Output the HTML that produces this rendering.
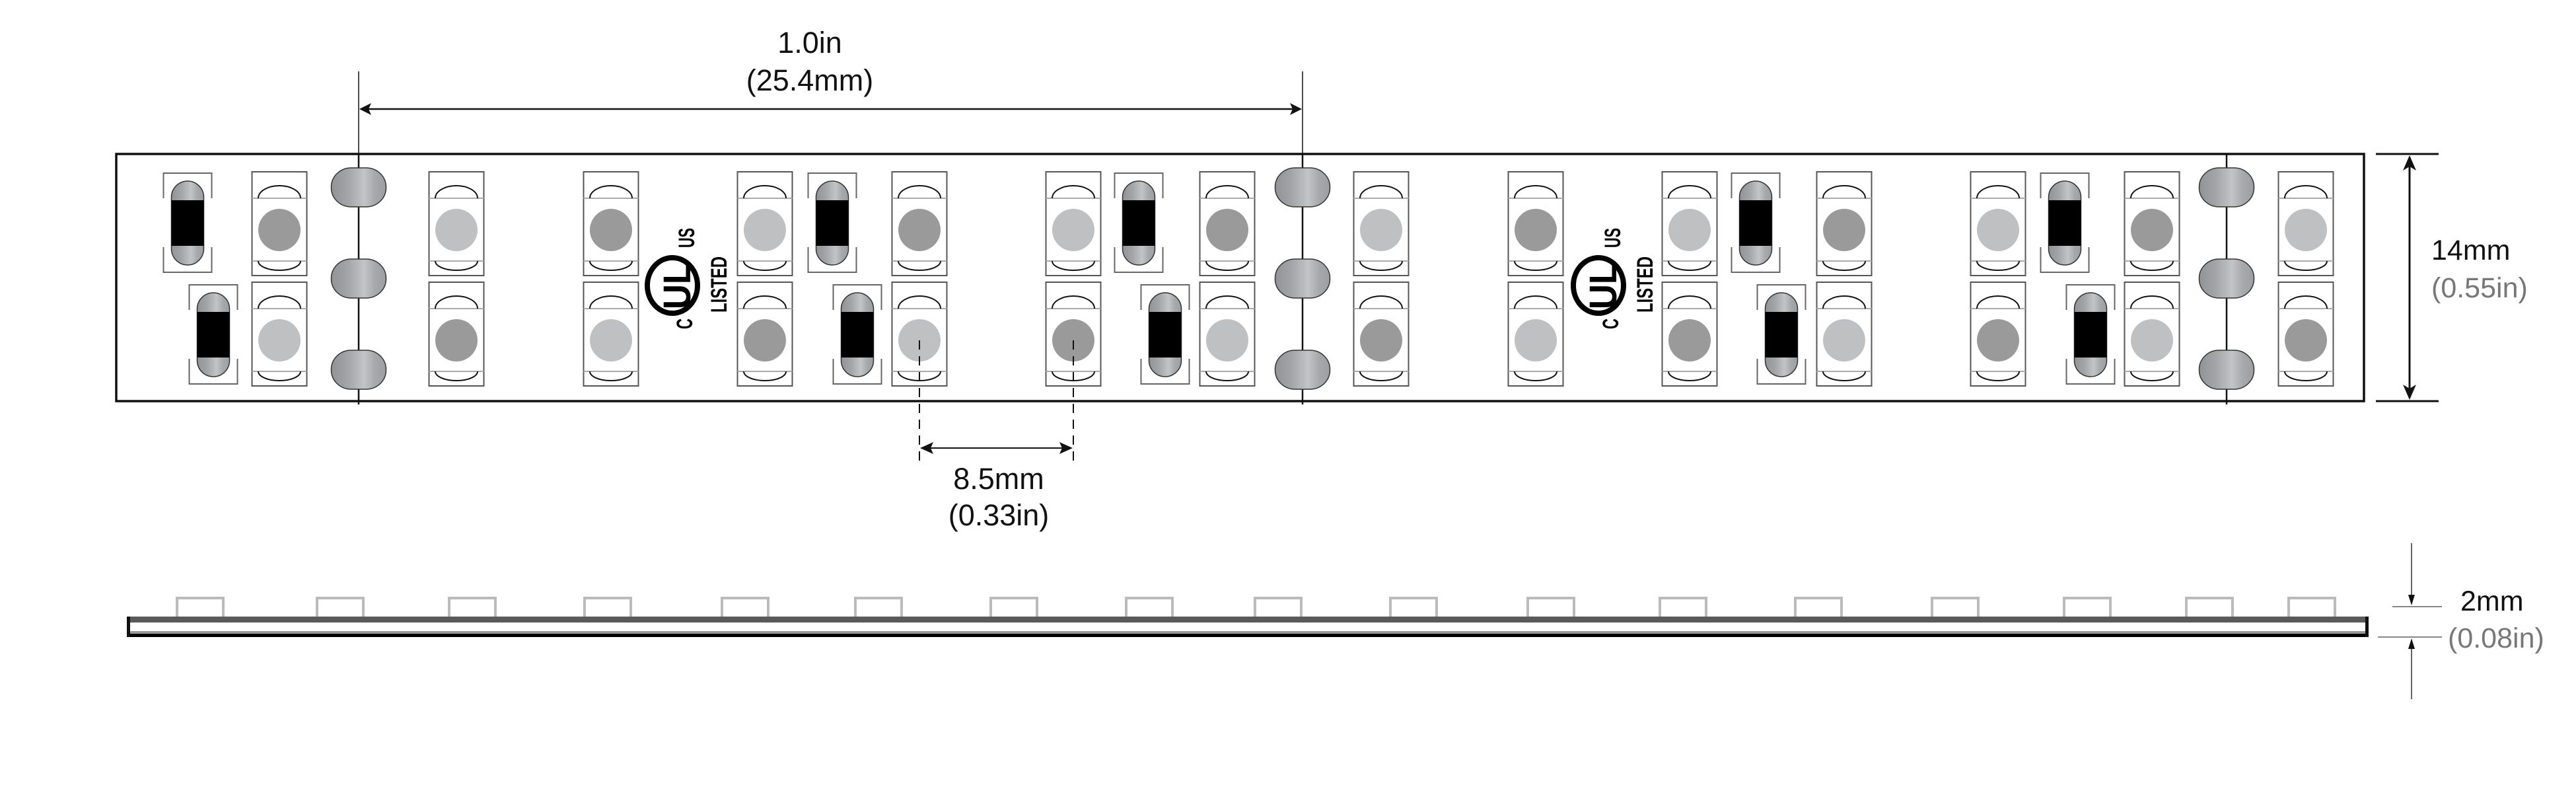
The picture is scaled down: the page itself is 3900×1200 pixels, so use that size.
<!DOCTYPE html>
<html><head><meta charset="utf-8"><style>
html,body{margin:0;padding:0;background:#fff;}
svg{display:block;}
text{font-family:"Liberation Sans",sans-serif;}
</style></head><body>
<svg width="3900" height="1200" viewBox="0 0 3900 1200" xmlns="http://www.w3.org/2000/svg">
<defs>
<linearGradient id="metal" x1="0" y1="0" x2="1" y2="0">
<stop offset="0" stop-color="#929396"/>
<stop offset="0.3" stop-color="#a2a4a7"/>
<stop offset="0.6" stop-color="#c3c4c7"/>
<stop offset="0.8" stop-color="#a6a8ab"/>
<stop offset="1" stop-color="#9c9ea1"/>
</linearGradient>
<g id="led">
<rect x="-41.5" y="0" width="83" height="157" fill="#fff" stroke="#555" stroke-width="2"/>
<line x1="-41.5" y1="40" x2="41.5" y2="40" stroke="#aaa" stroke-width="2"/>
<line x1="-41.5" y1="135" x2="41.5" y2="135" stroke="#aaa" stroke-width="2"/>
<path d="M-32,40 A32,19 0 0 1 32,40" fill="none" stroke="#111" stroke-width="2"/>
<path d="M-32,135 A32,14 0 0 0 32,135" fill="none" stroke="#111" stroke-width="2"/>
</g>
<g id="res">
<path d="M-36.5,38 V0 H36.5 V38 M-36.5,112 V150 H36.5 V112" fill="none" stroke="#666" stroke-width="2"/>
<rect x="-24.5" y="12" width="49" height="127" rx="24.5" fill="url(#metal)" stroke="#333" stroke-width="1.5"/>
<rect x="-24.5" y="41" width="49" height="69" fill="#000"/>
</g>
<g id="pad">
<rect x="-41.5" y="0" width="83" height="59" rx="30" ry="29" fill="url(#metal)" stroke="#333" stroke-width="1.5"/>
</g>
<g id="bump"><path d="M-35,30 V2 H35 V30" fill="none" stroke="#bbb" stroke-width="4"/></g>
</defs>

<!-- strip outline -->
<rect x="176" y="233" width="3403" height="374" fill="#fff" stroke="#111" stroke-width="3.5"/>

<!-- connectors -->
<line x1="543" y1="108" x2="543" y2="233" stroke="#111" stroke-width="1.5"/>
<line x1="1972" y1="108" x2="1972" y2="233" stroke="#111" stroke-width="1.5"/>
<g stroke="#111" stroke-width="2.5">
<line x1="543" y1="233" x2="543" y2="612"/>
<line x1="1972" y1="233" x2="1972" y2="612"/>
<line x1="3371" y1="233" x2="3371" y2="612"/>
</g>
<use href="#pad" x="543" y="254"/><use href="#pad" x="543" y="392"/><use href="#pad" x="543" y="530"/>
<use href="#pad" x="1972" y="254"/><use href="#pad" x="1972" y="392"/><use href="#pad" x="1972" y="530"/>
<use href="#pad" x="3371" y="254"/><use href="#pad" x="3371" y="392"/><use href="#pad" x="3371" y="530"/>

<!-- LEDs -->
<g>
<use href="#led" x="423" y="260"/><use href="#led" x="423" y="427"/>
<use href="#led" x="691" y="260"/><use href="#led" x="691" y="427"/>
<use href="#led" x="925" y="260"/><use href="#led" x="925" y="427"/>
<use href="#led" x="1158" y="260"/><use href="#led" x="1158" y="427"/>
<use href="#led" x="1392" y="260"/><use href="#led" x="1392" y="427"/>
<use href="#led" x="1625" y="260"/><use href="#led" x="1625" y="427"/>
<use href="#led" x="1858" y="260"/><use href="#led" x="1858" y="427"/>
<use href="#led" x="2091" y="260"/><use href="#led" x="2091" y="427"/>
<use href="#led" x="2325" y="260"/><use href="#led" x="2325" y="427"/>
<use href="#led" x="2558" y="260"/><use href="#led" x="2558" y="427"/>
<use href="#led" x="2792" y="260"/><use href="#led" x="2792" y="427"/>
<use href="#led" x="3025" y="260"/><use href="#led" x="3025" y="427"/>
<use href="#led" x="3258" y="260"/><use href="#led" x="3258" y="427"/>
<use href="#led" x="3491" y="260"/><use href="#led" x="3491" y="427"/>
</g>
<g fill="#9a9a9a">
<circle cx="423" cy="348" r="32"/><circle cx="691" cy="515" r="32"/>
<circle cx="925" cy="348" r="32"/><circle cx="1158" cy="515" r="32"/>
<circle cx="1392" cy="348" r="32"/><circle cx="1625" cy="515" r="32"/>
<circle cx="1858" cy="348" r="32"/><circle cx="2091" cy="515" r="32"/>
<circle cx="2325" cy="348" r="32"/><circle cx="2558" cy="515" r="32"/>
<circle cx="2792" cy="348" r="32"/><circle cx="3025" cy="515" r="32"/>
<circle cx="3258" cy="348" r="32"/><circle cx="3491" cy="515" r="32"/>
</g>
<g fill="#bfc0c2">
<circle cx="423" cy="515" r="32"/><circle cx="691" cy="348" r="32"/>
<circle cx="925" cy="515" r="32"/><circle cx="1158" cy="348" r="32"/>
<circle cx="1392" cy="515" r="32"/><circle cx="1625" cy="348" r="32"/>
<circle cx="1858" cy="515" r="32"/><circle cx="2091" cy="348" r="32"/>
<circle cx="2325" cy="515" r="32"/><circle cx="2558" cy="348" r="32"/>
<circle cx="2792" cy="515" r="32"/><circle cx="3025" cy="348" r="32"/>
<circle cx="3258" cy="515" r="32"/><circle cx="3491" cy="348" r="32"/>
</g>

<!-- resistors -->
<use href="#res" x="284" y="262"/><use href="#res" x="323" y="431"/>
<use href="#res" x="1260" y="262"/><use href="#res" x="1298" y="431"/>
<use href="#res" x="1724" y="262"/><use href="#res" x="1764" y="431"/>
<use href="#res" x="2658" y="262"/><use href="#res" x="2697" y="431"/>
<use href="#res" x="3126" y="262"/><use href="#res" x="3165" y="431"/>

<!-- UL logos -->
<g font-weight="bold" fill="#000">
<ellipse cx="1018" cy="432" rx="38" ry="42" fill="none" stroke="#000" stroke-width="8"/>
<text transform="translate(1045,468) rotate(-90)" font-size="58" textLength="70" lengthAdjust="spacingAndGlyphs">UL</text>
<text transform="translate(1051,375) rotate(-90)" font-size="34" textLength="30" lengthAdjust="spacingAndGlyphs">US</text>
<text transform="translate(1100,473) rotate(-90)" font-size="34" textLength="85" lengthAdjust="spacingAndGlyphs">LISTED</text>
<text transform="translate(1048,498) rotate(-90)" font-size="34" textLength="16" lengthAdjust="spacingAndGlyphs">C</text>
</g>
<g font-weight="bold" fill="#000" transform="translate(1402,0)">
<ellipse cx="1018" cy="432" rx="38" ry="42" fill="none" stroke="#000" stroke-width="8"/>
<text transform="translate(1045,468) rotate(-90)" font-size="58" textLength="70" lengthAdjust="spacingAndGlyphs">UL</text>
<text transform="translate(1051,375) rotate(-90)" font-size="34" textLength="30" lengthAdjust="spacingAndGlyphs">US</text>
<text transform="translate(1100,473) rotate(-90)" font-size="34" textLength="85" lengthAdjust="spacingAndGlyphs">LISTED</text>
<text transform="translate(1048,498) rotate(-90)" font-size="34" textLength="16" lengthAdjust="spacingAndGlyphs">C</text>
</g>

<!-- top dimension -->
<line x1="550" y1="165" x2="1965" y2="165" stroke="#111" stroke-width="2.5"/>
<path d="M544,165 L562,156 L558,165 L562,174 Z" fill="#111"/>
<path d="M1971,165 L1953,156 L1957,165 L1953,174 Z" fill="#111"/>
<text x="1226" y="80" font-size="45" text-anchor="middle" fill="#111">1.0in</text>
<text x="1226" y="137" font-size="45" text-anchor="middle" fill="#111">(25.4mm)</text>

<!-- 8.5mm dimension -->
<g stroke="#111" stroke-width="2">
<line x1="1392" y1="515" x2="1392" y2="705" stroke-dasharray="14,10"/>
<line x1="1625" y1="515" x2="1625" y2="705" stroke-dasharray="14,10"/>
<line x1="1398" y1="678" x2="1620" y2="678"/>
</g>
<path d="M1393,678 L1413,669 L1409,678 L1413,687 Z" fill="#111"/>
<path d="M1624,678 L1604,669 L1608,678 L1604,687 Z" fill="#111"/>
<text x="1512" y="740" font-size="45" text-anchor="middle" fill="#111">8.5mm</text>
<text x="1512" y="795" font-size="45" text-anchor="middle" fill="#111">(0.33in)</text>

<!-- 14mm dimension -->
<g stroke="#111" stroke-width="3">
<line x1="3597" y1="233" x2="3692" y2="233"/>
<line x1="3597" y1="607" x2="3692" y2="607"/>
<line x1="3648" y1="245" x2="3648" y2="595"/>
</g>
<path d="M3648,235 L3638,258 L3648,252 L3658,258 Z" fill="#111"/>
<path d="M3648,605 L3638,582 L3648,588 L3658,582 Z" fill="#111"/>
<text x="3681" y="393" font-size="43" fill="#111">14mm</text>
<text x="3681" y="450" font-size="43" fill="#777">(0.55in)</text>

<!-- side view -->
<g>
<use href="#bump" x="303" y="903"/><use href="#bump" x="515" y="903"/><use href="#bump" x="715" y="903"/>
<use href="#bump" x="920" y="903"/><use href="#bump" x="1128" y="903"/><use href="#bump" x="1330" y="903"/>
<use href="#bump" x="1535" y="903"/><use href="#bump" x="1740" y="903"/><use href="#bump" x="1935" y="903"/>
<use href="#bump" x="2140" y="903"/><use href="#bump" x="2348" y="903"/><use href="#bump" x="2548" y="903"/>
<use href="#bump" x="2753" y="903"/><use href="#bump" x="2960" y="903"/><use href="#bump" x="3160" y="903"/>
<use href="#bump" x="3345" y="903"/><use href="#bump" x="3500" y="903"/>
</g>
<rect x="192" y="933" width="3394" height="9" fill="#5a5a5a"/>
<rect x="192" y="955" width="3394" height="4" fill="#999"/>
<rect x="192" y="959" width="3394" height="5" fill="#000"/>
<rect x="192" y="933" width="5" height="31" fill="#111"/>
<rect x="3581" y="933" width="5" height="31" fill="#111"/>

<!-- 2mm dimension -->
<g stroke="#888" stroke-width="2">
<line x1="3622" y1="918" x2="3697" y2="918"/>
<line x1="3600" y1="964" x2="3697" y2="964"/>
</g>
<g stroke="#333" stroke-width="1.5">
<line x1="3651" y1="822" x2="3651" y2="905"/>
<line x1="3651" y1="978" x2="3651" y2="1058"/>
</g>
<path d="M3651,916 L3646,900 L3656,900 Z" fill="#111"/>
<path d="M3651,966 L3646,982 L3656,982 Z" fill="#111"/>
<text x="3725" y="924" font-size="43" fill="#111">2mm</text>
<text x="3706" y="980" font-size="43" fill="#777">(0.08in)</text>
</svg>
</body></html>
